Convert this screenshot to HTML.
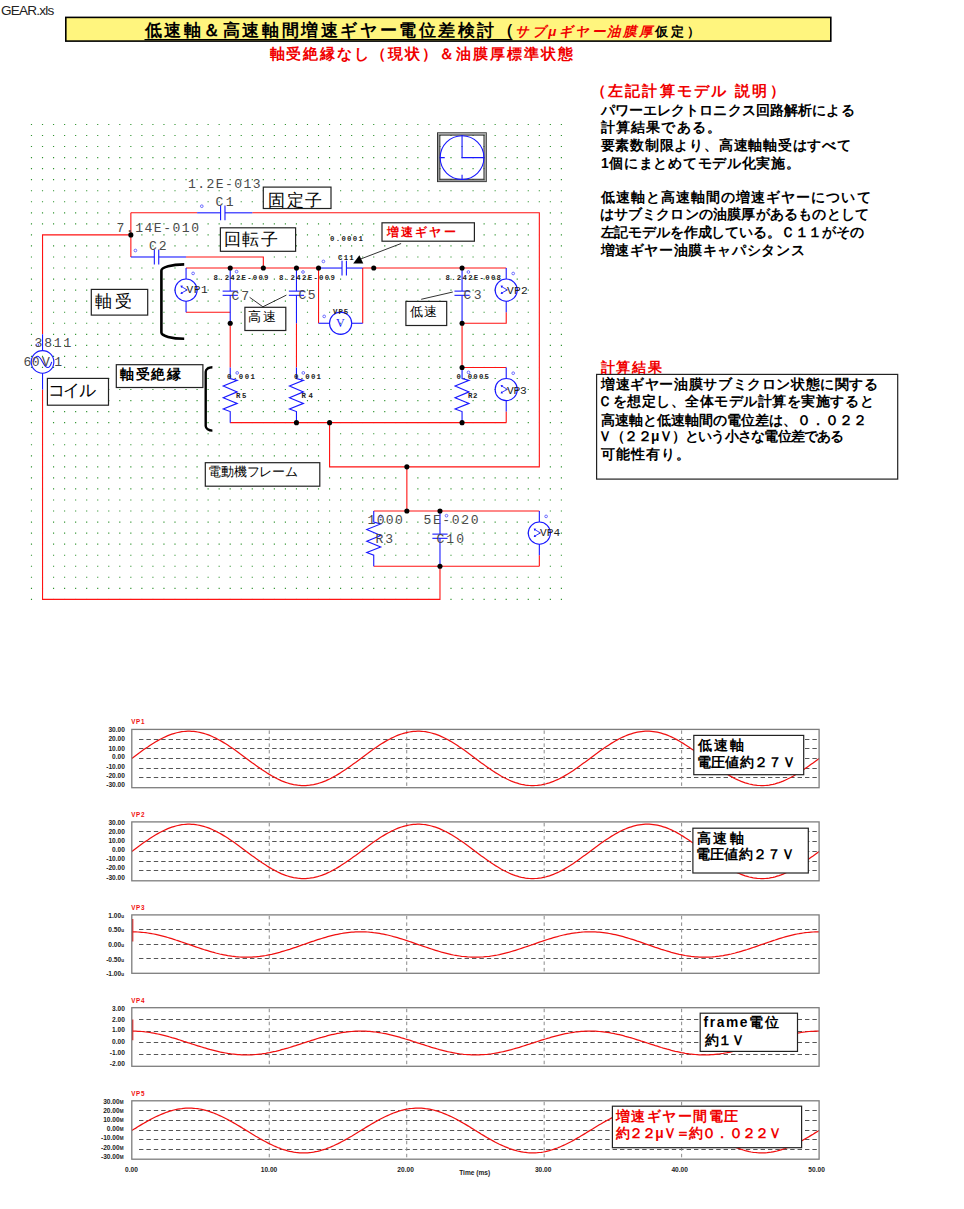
<!DOCTYPE html>
<html lang="ja">
<head>
<meta charset="utf-8">
<title>GEAR.xls</title>
<style>
html,body{margin:0;padding:0;background:#fff}
body{width:964px;height:1209px;overflow:hidden;font-family:"Liberation Sans",sans-serif}
svg{display:block}
text{white-space:pre}
.r{stroke:#ff1212;stroke-width:1.1;fill:none}
.b{stroke:#1818ff;stroke-width:1.1;fill:none}
.k{fill:#000}
.bx{fill:#fff;stroke:#222;stroke-width:1.2}
.mk{fill:none;stroke:#4a4aff;stroke-width:.8}
.fr{fill:none;stroke:#7d7d7d;stroke-width:1.3}
.gh{stroke:#555;stroke-width:1;stroke-dasharray:4.4 3;fill:none}
.gv{stroke:#8a8a8a;stroke-width:1;stroke-dasharray:3.5 3;fill:none}
.cv{stroke:#f01010;stroke-width:1.25;fill:none}
.ax{font-family:"Liberation Sans",sans-serif;font-size:6.6px;font-weight:bold;fill:#222}
.ct{font-family:"Liberation Sans",sans-serif;font-size:6.3px;font-weight:bold;fill:#f01010;letter-spacing:.6px}
</style>
</head>
<body>
<svg width="964" height="1209" viewBox="0 0 964 1209">
<rect width="964" height="1209" fill="#fff"/>
<rect x="65.8" y="17.4" width="765" height="23.7" fill="#fff57e" stroke="#000" stroke-width="1.6"/>
<line x1="144.5" y1="39.6" x2="512.5" y2="39.6" stroke="#000" stroke-width="1.1"/>
<g stroke="#2f932f" stroke-width="1.15" stroke-dasharray="1.15 9.890">
<line x1="30.90" y1="124.45" x2="562.22" y2="124.45"/>
<line x1="30.90" y1="135.50" x2="562.22" y2="135.50"/>
<line x1="30.90" y1="146.54" x2="562.22" y2="146.54"/>
<line x1="30.90" y1="157.59" x2="562.22" y2="157.59"/>
<line x1="30.90" y1="168.63" x2="562.22" y2="168.63"/>
<line x1="30.90" y1="179.68" x2="562.22" y2="179.68"/>
<line x1="30.90" y1="190.72" x2="562.22" y2="190.72"/>
<line x1="30.90" y1="201.76" x2="562.22" y2="201.76"/>
<line x1="30.90" y1="212.81" x2="562.22" y2="212.81"/>
<line x1="30.90" y1="223.86" x2="562.22" y2="223.86"/>
<line x1="30.90" y1="234.90" x2="562.22" y2="234.90"/>
<line x1="30.90" y1="245.94" x2="562.22" y2="245.94"/>
<line x1="30.90" y1="256.99" x2="562.22" y2="256.99"/>
<line x1="30.90" y1="268.04" x2="562.22" y2="268.04"/>
<line x1="30.90" y1="279.08" x2="562.22" y2="279.08"/>
<line x1="30.90" y1="290.12" x2="562.22" y2="290.12"/>
<line x1="30.90" y1="301.17" x2="562.22" y2="301.17"/>
<line x1="30.90" y1="312.21" x2="562.22" y2="312.21"/>
<line x1="30.90" y1="323.26" x2="562.22" y2="323.26"/>
<line x1="30.90" y1="334.31" x2="562.22" y2="334.31"/>
<line x1="30.90" y1="345.35" x2="562.22" y2="345.35"/>
<line x1="30.90" y1="356.39" x2="562.22" y2="356.39"/>
<line x1="30.90" y1="367.44" x2="562.22" y2="367.44"/>
<line x1="30.90" y1="378.49" x2="562.22" y2="378.49"/>
<line x1="30.90" y1="389.53" x2="562.22" y2="389.53"/>
<line x1="30.90" y1="400.57" x2="562.22" y2="400.57"/>
<line x1="30.90" y1="411.62" x2="562.22" y2="411.62"/>
<line x1="30.90" y1="422.66" x2="562.22" y2="422.66"/>
<line x1="30.90" y1="433.71" x2="562.22" y2="433.71"/>
<line x1="30.90" y1="444.75" x2="562.22" y2="444.75"/>
<line x1="30.90" y1="455.80" x2="562.22" y2="455.80"/>
<line x1="30.90" y1="466.84" x2="562.22" y2="466.84"/>
<line x1="30.90" y1="477.89" x2="562.22" y2="477.89"/>
<line x1="30.90" y1="488.94" x2="562.22" y2="488.94"/>
<line x1="30.90" y1="499.98" x2="562.22" y2="499.98"/>
<line x1="30.90" y1="511.02" x2="562.22" y2="511.02"/>
<line x1="30.90" y1="522.07" x2="562.22" y2="522.07"/>
<line x1="30.90" y1="533.12" x2="562.22" y2="533.12"/>
<line x1="30.90" y1="544.16" x2="562.22" y2="544.16"/>
<line x1="30.90" y1="555.21" x2="562.22" y2="555.21"/>
<line x1="30.90" y1="566.25" x2="562.22" y2="566.25"/>
<line x1="30.90" y1="577.29" x2="562.22" y2="577.29"/>
<line x1="30.90" y1="588.34" x2="562.22" y2="588.34"/>
<line x1="30.90" y1="599.38" x2="562.22" y2="599.38"/>
</g>
<path d="M42.54 334.31 L42.54 234.90 L130.86 234.90 M130.86 212.81 L130.86 256.99 M130.86 212.81 L197.10 212.81 M252.30 212.81 L539.34 212.81 L539.34 466.84 L329.58 466.84 L329.58 422.66 M186.06 256.99 L263.34 256.99 L263.34 268.04 M186.06 268.04 L318.54 268.04 M362.70 268.04 L506.22 268.04 M186.06 312.21 L230.22 312.21 M230.22 323.26 L230.22 367.44 M296.46 323.26 L296.46 367.44 M462.06 323.26 L462.06 367.44 M318.54 268.04 L318.54 323.26 M362.70 268.04 L362.70 323.26 M506.22 312.21 L506.22 323.26 L462.06 323.26 M462.06 367.44 L506.22 367.44 M506.22 411.62 L506.22 422.66 M230.22 422.66 L506.22 422.66 M406.86 466.84 L406.86 511.02 M373.74 511.02 L539.34 511.02 M373.74 566.25 L539.34 566.25 M539.34 555.21 L539.34 566.25 M439.98 566.25 L439.98 599.38 L42.54 599.38 L42.54 389.53 M197.10 212.81 L220.58 212.81 M224.98 212.81 L252.30 212.81 M220.58 205.41 L220.58 220.21 M224.98 205.41 L224.98 220.21 M130.86 256.99 L154.34 256.99 M158.74 256.99 L186.06 256.99 M154.34 249.59 L154.34 264.39 M158.74 249.59 L158.74 264.39 M318.54 268.04 L342.02 268.04 M346.42 268.04 L362.70 268.04 M342.02 260.64 L342.02 275.44 M346.42 260.64 L346.42 275.44 M230.22 268.04 L230.22 291.12 M230.22 295.32 L230.22 323.26 M222.62 291.12 L237.82 291.12 M222.62 295.32 L237.82 295.32 M296.46 268.04 L296.46 291.12 M296.46 295.32 L296.46 323.26 M288.86 291.12 L304.06 291.12 M288.86 295.32 L304.06 295.32 M462.06 268.04 L462.06 291.12 M462.06 295.32 L462.06 323.26 M454.46 291.12 L469.66 291.12 M454.46 295.32 L469.66 295.32 M439.98 511.02 L439.98 534.12 M439.98 538.32 L439.98 566.25 M432.38 534.12 L447.58 534.12 M432.38 538.32 L447.58 538.32 M230.22 367.44 L230.22 378.49 L237.22 380.38 L223.22 385.99 L237.22 391.88 L223.22 397.69 L237.22 403.38 L223.22 408.99 L230.22 411.59 L230.22 422.66 M296.46 367.44 L296.46 378.49 L303.46 380.38 L289.46 385.99 L303.46 391.88 L289.46 397.69 L303.46 403.38 L289.46 408.99 L296.46 411.59 L296.46 422.66 M462.06 367.44 L462.06 378.49 L469.06 380.38 L455.06 385.99 L469.06 391.88 L455.06 397.69 L469.06 403.38 L455.06 408.99 L462.06 411.59 L462.06 422.66 M373.74 511.02 L373.74 522.07 L380.74 523.97 L366.74 529.57 L380.74 535.47 L366.74 541.27 L380.74 546.97 L366.74 552.57 L373.74 555.17 L373.74 566.25 M186.06 268.04 L186.06 279.12 M186.06 301.12 L186.06 312.21 M506.22 268.04 L506.22 279.12 M506.22 301.12 L506.22 312.21 M506.22 367.44 L506.22 378.53 M506.22 400.53 L506.22 411.62 M539.34 511.02 L539.34 522.12 M539.34 544.12 L539.34 555.21 M318.54 323.26 L329.62 323.26 M351.62 323.26 L362.70 323.26 M42.54 334.31 L42.54 350.72 M42.54 373.12 L42.54 389.53" fill="none" stroke="#fff" stroke-width="2.4" stroke-linecap="square"/>
<g id="wires">
<path class="r" d="M42.54 334.31 L42.54 234.90 L130.86 234.90"/>
<path class="r" d="M130.86 212.81 L130.86 256.99"/>
<path class="r" d="M130.86 212.81 L197.10 212.81"/>
<path class="r" d="M252.30 212.81 L539.34 212.81 L539.34 466.84 L329.58 466.84 L329.58 422.66"/>
<path class="r" d="M186.06 256.99 L263.34 256.99 L263.34 268.04"/>
<path class="r" d="M186.06 268.04 L318.54 268.04"/>
<path class="r" d="M362.70 268.04 L506.22 268.04"/>
<path class="r" d="M186.06 312.21 L230.22 312.21"/>
<path class="r" d="M230.22 323.26 L230.22 367.44"/>
<path class="r" d="M296.46 323.26 L296.46 367.44"/>
<path class="r" d="M462.06 323.26 L462.06 367.44"/>
<path class="r" d="M318.54 268.04 L318.54 323.26"/>
<path class="r" d="M362.70 268.04 L362.70 323.26"/>
<path class="r" d="M506.22 312.21 L506.22 323.26 L462.06 323.26"/>
<path class="r" d="M462.06 367.44 L506.22 367.44"/>
<path class="r" d="M506.22 411.62 L506.22 422.66"/>
<path class="r" d="M230.22 422.66 L506.22 422.66"/>
<path class="r" d="M406.86 466.84 L406.86 511.02"/>
<path class="r" d="M373.74 511.02 L539.34 511.02"/>
<path class="r" d="M373.74 566.25 L539.34 566.25"/>
<path class="r" d="M539.34 555.21 L539.34 566.25"/>
<path class="r" d="M439.98 566.25 L439.98 599.38 L42.54 599.38 L42.54 389.53"/>
</g>
<g id="parts">
<path class="b" d="M197.10 212.81 L220.58 212.81"/>
<path class="b" d="M224.98 212.81 L252.30 212.81"/>
<path class="b" d="M220.58 205.41 L220.58 220.21"/>
<path class="b" d="M224.98 205.41 L224.98 220.21"/>
<path class="b" d="M130.86 256.99 L154.34 256.99"/>
<path class="b" d="M158.74 256.99 L186.06 256.99"/>
<path class="b" d="M154.34 249.59 L154.34 264.39"/>
<path class="b" d="M158.74 249.59 L158.74 264.39"/>
<path class="b" d="M318.54 268.04 L342.02 268.04"/>
<path class="b" d="M346.42 268.04 L362.70 268.04"/>
<path class="b" d="M342.02 260.64 L342.02 275.44"/>
<path class="b" d="M346.42 260.64 L346.42 275.44"/>
<path class="b" d="M230.22 268.04 L230.22 291.12"/>
<path class="b" d="M230.22 295.32 L230.22 323.26"/>
<path class="b" d="M222.62 291.12 L237.82 291.12"/>
<path class="b" d="M222.62 295.32 L237.82 295.32"/>
<path class="b" d="M296.46 268.04 L296.46 291.12"/>
<path class="b" d="M296.46 295.32 L296.46 323.26"/>
<path class="b" d="M288.86 291.12 L304.06 291.12"/>
<path class="b" d="M288.86 295.32 L304.06 295.32"/>
<path class="b" d="M462.06 268.04 L462.06 291.12"/>
<path class="b" d="M462.06 295.32 L462.06 323.26"/>
<path class="b" d="M454.46 291.12 L469.66 291.12"/>
<path class="b" d="M454.46 295.32 L469.66 295.32"/>
<path class="b" d="M439.98 511.02 L439.98 534.12"/>
<path class="b" d="M439.98 538.32 L439.98 566.25"/>
<path class="b" d="M432.38 534.12 L447.58 534.12"/>
<path class="b" d="M432.38 538.32 L447.58 538.32"/>
<path class="b" d="M230.22 367.44 L230.22 378.49 L237.22 380.38 L223.22 385.99 L237.22 391.88 L223.22 397.69 L237.22 403.38 L223.22 408.99 L230.22 411.59 L230.22 422.66"/>
<path class="b" d="M296.46 367.44 L296.46 378.49 L303.46 380.38 L289.46 385.99 L303.46 391.88 L289.46 397.69 L303.46 403.38 L289.46 408.99 L296.46 411.59 L296.46 422.66"/>
<path class="b" d="M462.06 367.44 L462.06 378.49 L469.06 380.38 L455.06 385.99 L469.06 391.88 L455.06 397.69 L469.06 403.38 L455.06 408.99 L462.06 411.59 L462.06 422.66"/>
<path class="b" d="M373.74 511.02 L373.74 522.07 L380.74 523.97 L366.74 529.57 L380.74 535.47 L366.74 541.27 L380.74 546.97 L366.74 552.57 L373.74 555.17 L373.74 566.25"/>
<path class="b" d="M186.06 268.04 L186.06 279.12"/>
<path class="b" d="M186.06 301.12 L186.06 312.21"/>
<circle class="b" cx="186.06" cy="290.12" r="11.1"/>
<path class="b" style="stroke-width:.85" d="M181.26 286.52 L187.26 289.93 L181.26 293.12"/>
<path fill="#1818ff" d="M180.46 285.52 l2.6 0.3 l-1.9 2.1z M180.46 294.12 l2.6 -0.3 l-1.9 -2.1z"/>
<path class="b" d="M506.22 268.04 L506.22 279.12"/>
<path class="b" d="M506.22 301.12 L506.22 312.21"/>
<circle class="b" cx="506.22" cy="290.12" r="11.1"/>
<path class="b" style="stroke-width:.85" d="M501.42 286.52 L507.42 289.93 L501.42 293.12"/>
<path fill="#1818ff" d="M500.62 285.52 l2.6 0.3 l-1.9 2.1z M500.62 294.12 l2.6 -0.3 l-1.9 -2.1z"/>
<path class="b" d="M506.22 367.44 L506.22 378.53"/>
<path class="b" d="M506.22 400.53 L506.22 411.62"/>
<circle class="b" cx="506.22" cy="389.53" r="11.1"/>
<path class="b" style="stroke-width:.85" d="M501.42 385.93 L507.42 389.33 L501.42 392.53"/>
<path fill="#1818ff" d="M500.62 384.93 l2.6 0.3 l-1.9 2.1z M500.62 393.53 l2.6 -0.3 l-1.9 -2.1z"/>
<path class="b" d="M539.34 511.02 L539.34 522.12"/>
<path class="b" d="M539.34 544.12 L539.34 555.21"/>
<circle class="b" cx="539.34" cy="533.12" r="11.1"/>
<path class="b" style="stroke-width:.85" d="M534.54 529.51 L540.54 532.91 L534.54 536.12"/>
<path fill="#1818ff" d="M533.74 528.51 l2.6 0.3 l-1.9 2.1z M533.74 537.12 l2.6 -0.3 l-1.9 -2.1z"/>
<path class="b" d="M318.54 323.26 L329.62 323.26"/>
<path class="b" d="M351.62 323.26 L362.70 323.26"/>
<circle class="b" cx="340.62" cy="323.26" r="11.1"/>
<path class="b" d="M42.54 334.31 L42.54 350.72"/>
<path class="b" d="M42.54 373.12 L42.54 389.53"/>
<circle class="b" cx="42.54" cy="361.92" r="11.3"/>
<path class="b" stroke-width="1.1" d="M33.34 361.92 c2.2 -7.5 5.2 -7.5 9.2 0 s7 7.5 9.2 0"/>
<rect x="437.5" y="132.8" width="48.8" height="48.8" fill="none" stroke="#333" stroke-width="1"/>
<rect x="438.6" y="133.9" width="46.6" height="46.6" fill="none" stroke="#9a9a9a" stroke-width="1.2"/>
<rect x="439.8" y="135.1" width="44.2" height="44.2" fill="none" stroke="#333" stroke-width="1.1"/>
<circle class="b" cx="462.06" cy="157.59" r="21.9"/>
<path class="b" d="M462.06 135.60 V157.59 H483.80 M440.16 157.59 h4.6 M462.06 179.49 v-4.8"/>
</g>
<g class="k">
<circle cx="130.86" cy="234.90" r="2.55"/>
<circle cx="230.22" cy="268.04" r="2.55"/>
<circle cx="263.34" cy="268.04" r="2.55"/>
<circle cx="296.46" cy="268.04" r="2.55"/>
<circle cx="318.54" cy="268.04" r="2.55"/>
<circle cx="373.74" cy="268.04" r="2.55"/>
<circle cx="462.06" cy="268.04" r="2.55"/>
<circle cx="230.22" cy="323.26" r="2.55"/>
<circle cx="462.06" cy="323.26" r="2.55"/>
<circle cx="462.06" cy="367.44" r="2.55"/>
<circle cx="296.46" cy="422.66" r="2.55"/>
<circle cx="329.58" cy="422.66" r="2.55"/>
<circle cx="462.06" cy="422.66" r="2.55"/>
<circle cx="406.86" cy="466.84" r="2.55"/>
<circle cx="406.86" cy="511.02" r="2.55"/>
<circle cx="439.98" cy="511.02" r="2.55"/>
<circle cx="439.98" cy="566.25" r="2.55"/>
</g>
<g class="mk">
<circle cx="201.8" cy="206.2" r="1.35"/>
<circle cx="135.4" cy="250.5" r="1.35"/>
<circle cx="236.6" cy="271.6" r="1.35"/>
<circle cx="303.0" cy="272.0" r="1.35"/>
<circle cx="468.4" cy="272.0" r="1.35"/>
<circle cx="323.4" cy="261.4" r="1.35"/>
<circle cx="324.2" cy="316.4" r="1.35"/>
<circle cx="193.1" cy="273.4" r="1.35"/>
<circle cx="513.2" cy="273.5" r="1.35"/>
<circle cx="513.2" cy="373.2" r="1.35"/>
<circle cx="546.1" cy="516.4" r="1.35"/>
<circle cx="237.2" cy="372.9" r="1.35"/>
<circle cx="303.3" cy="372.9" r="1.35"/>
<circle cx="468.5" cy="372.4" r="1.35"/>
<circle cx="380.7" cy="516.3" r="1.35"/>
<circle cx="446.5" cy="515.7" r="1.35"/>
<circle cx="37.4" cy="345.0" r="1.35"/>
</g>
<path d="M184.2 264.4 A22.8 6.2 0 0 0 161.4 270.6 V332.6 A22.8 6.2 0 0 0 184.2 338.8" fill="none" stroke="#000" stroke-width="2.6"/>
<path d="M212.4 367.2 A6.7 4.6 0 0 0 205.7 371.8 V426 A6.7 4.6 0 0 0 212.4 430.6" fill="none" stroke="#000" stroke-width="2.4"/>
<path d="M249.6 297.3 L262.9 306.8 L286.4 295.1 M421.2 299.3 L452.8 292 M401.1 243.5 L360.7 259" fill="none" stroke="#333" stroke-width="1"/>
<path d="M359.4 255.2 L353.2 263.6 L363.3 263.6z" fill="#000"/>
<rect class="bx" x="263.3" y="187.1" width="67.7" height="21.4"/>
<rect class="bx" x="220.4" y="227.8" width="75.2" height="23.5"/>
<rect class="bx" x="91.3" y="289.4" width="56.4" height="25.7"/>
<rect class="bx" x="116.3" y="364.7" width="86.6" height="22.8"/>
<rect class="bx" x="47.4" y="378.4" width="61.1" height="26.8"/>
<rect class="bx" x="244.9" y="307.3" width="40.9" height="23.2"/>
<rect class="bx" x="405.9" y="301.4" width="40.8" height="24.1"/>
<rect class="bx" x="205.3" y="462.7" width="114.5" height="23.5"/>
<rect class="bx" x="382.0" y="222.8" width="92.4" height="18.4"/>
<rect class="bx" x="596.6" y="374.4" width="301.1" height="104.7"/>
<g>
<line class="gh" x1="139.0" y1="739.50" x2="819.1" y2="739.50"/>
<line class="gh" x1="139.0" y1="748.50" x2="819.1" y2="748.50"/>
<line class="gh" x1="139.0" y1="758.50" x2="819.1" y2="758.50"/>
<line class="gh" x1="139.0" y1="768.50" x2="819.1" y2="768.50"/>
<line class="gh" x1="139.0" y1="777.50" x2="819.1" y2="777.50"/>
<line class="gv" x1="269.26" y1="730.4" x2="269.26" y2="787.7"/>
<line class="gv" x1="406.72" y1="730.4" x2="406.72" y2="787.7"/>
<line class="gv" x1="544.18" y1="730.4" x2="544.18" y2="787.7"/>
<line class="gv" x1="681.64" y1="730.4" x2="681.64" y2="787.7"/>
<path class="cv" d="M131.8 758.4 L133.8 756.9 L135.8 755.4 L137.8 753.9 L139.8 752.5 L141.8 751.0 L143.8 749.6 L145.8 748.2 L147.8 746.9 L149.8 745.5 L151.8 744.2 L153.8 743.0 L155.8 741.8 L157.8 740.6 L159.8 739.5 L161.8 738.5 L163.8 737.5 L165.8 736.6 L167.8 735.7 L169.8 734.9 L171.8 734.2 L173.8 733.6 L175.8 733.0 L177.8 732.5 L179.8 732.1 L181.7 731.7 L183.7 731.5 L185.7 731.3 L187.7 731.2 L189.7 731.2 L191.7 731.3 L193.7 731.4 L195.7 731.7 L197.7 732.0 L199.7 732.4 L201.7 732.8 L203.7 733.4 L205.7 734.0 L207.7 734.7 L209.7 735.4 L211.7 736.3 L213.7 737.2 L215.7 738.1 L217.7 739.2 L219.7 740.2 L221.7 741.4 L223.7 742.6 L225.7 743.8 L227.7 745.1 L229.7 746.4 L231.7 747.8 L233.7 749.1 L235.7 750.6 L237.7 752.0 L239.7 753.5 L241.7 754.9 L243.7 756.4 L245.7 757.9 L247.7 759.4 L249.7 760.9 L251.7 762.4 L253.7 763.8 L255.7 765.3 L257.7 766.7 L259.7 768.1 L261.7 769.5 L263.7 770.8 L265.7 772.1 L267.7 773.4 L269.7 774.6 L271.7 775.8 L273.7 776.9 L275.7 778.0 L277.7 779.0 L279.6 779.9 L281.6 780.8 L283.6 781.6 L285.6 782.4 L287.6 783.0 L289.6 783.6 L291.6 784.1 L293.6 784.6 L295.6 784.9 L297.6 785.2 L299.6 785.4 L301.6 785.6 L303.6 785.6 L305.6 785.6 L307.6 785.4 L309.6 785.2 L311.6 784.9 L313.6 784.6 L315.6 784.1 L317.6 783.6 L319.6 783.0 L321.6 782.4 L323.6 781.6 L325.6 780.8 L327.6 779.9 L329.6 779.0 L331.6 778.0 L333.6 776.9 L335.6 775.8 L337.6 774.6 L339.6 773.4 L341.6 772.1 L343.6 770.8 L345.6 769.5 L347.6 768.1 L349.6 766.7 L351.6 765.3 L353.6 763.8 L355.6 762.4 L357.6 760.9 L359.6 759.4 L361.6 757.9 L363.6 756.4 L365.6 754.9 L367.6 753.5 L369.6 752.0 L371.6 750.6 L373.6 749.1 L375.6 747.8 L377.5 746.4 L379.5 745.1 L381.5 743.8 L383.5 742.6 L385.5 741.4 L387.5 740.2 L389.5 739.2 L391.5 738.1 L393.5 737.2 L395.5 736.3 L397.5 735.4 L399.5 734.7 L401.5 734.0 L403.5 733.4 L405.5 732.8 L407.5 732.4 L409.5 732.0 L411.5 731.7 L413.5 731.4 L415.5 731.3 L417.5 731.2 L419.5 731.2 L421.5 731.3 L423.5 731.5 L425.5 731.7 L427.5 732.1 L429.5 732.5 L431.5 733.0 L433.5 733.6 L435.5 734.2 L437.5 734.9 L439.5 735.7 L441.5 736.6 L443.5 737.5 L445.5 738.5 L447.5 739.5 L449.5 740.6 L451.5 741.8 L453.5 743.0 L455.5 744.2 L457.5 745.5 L459.5 746.9 L461.5 748.2 L463.5 749.6 L465.5 751.0 L467.5 752.5 L469.5 753.9 L471.5 755.4 L473.5 756.9 L475.4 758.4 L477.4 759.9 L479.4 761.4 L481.4 762.9 L483.4 764.3 L485.4 765.8 L487.4 767.2 L489.4 768.6 L491.4 769.9 L493.4 771.3 L495.4 772.6 L497.4 773.8 L499.4 775.0 L501.4 776.2 L503.4 777.3 L505.4 778.3 L507.4 779.3 L509.4 780.2 L511.4 781.1 L513.4 781.9 L515.4 782.6 L517.4 783.2 L519.4 783.8 L521.4 784.3 L523.4 784.7 L525.4 785.1 L527.4 785.3 L529.4 785.5 L531.4 785.6 L533.4 785.6 L535.4 785.5 L537.4 785.4 L539.4 785.1 L541.4 784.8 L543.4 784.4 L545.4 784.0 L547.4 783.4 L549.4 782.8 L551.4 782.1 L553.4 781.4 L555.4 780.5 L557.4 779.6 L559.4 778.7 L561.4 777.6 L563.4 776.6 L565.4 775.4 L567.4 774.2 L569.4 773.0 L571.4 771.7 L573.4 770.4 L575.3 769.0 L577.3 767.7 L579.3 766.2 L581.3 764.8 L583.3 763.3 L585.3 761.9 L587.3 760.4 L589.3 758.9 L591.3 757.4 L593.3 755.9 L595.3 754.4 L597.3 753.0 L599.3 751.5 L601.3 750.1 L603.3 748.7 L605.3 747.3 L607.3 746.0 L609.3 744.7 L611.3 743.4 L613.3 742.2 L615.3 741.0 L617.3 739.9 L619.3 738.8 L621.3 737.8 L623.3 736.9 L625.3 736.0 L627.3 735.2 L629.3 734.4 L631.3 733.8 L633.3 733.2 L635.3 732.7 L637.3 732.2 L639.3 731.9 L641.3 731.6 L643.3 731.4 L645.3 731.2 L647.3 731.2 L649.3 731.2 L651.3 731.4 L653.3 731.6 L655.3 731.9 L657.3 732.2 L659.3 732.7 L661.3 733.2 L663.3 733.8 L665.3 734.4 L667.3 735.2 L669.3 736.0 L671.3 736.9 L673.2 737.8 L675.2 738.8 L677.2 739.9 L679.2 741.0 L681.2 742.2 L683.2 743.4 L685.2 744.7 L687.2 746.0 L689.2 747.3 L691.2 748.7 L693.2 750.1 L695.2 751.5 L697.2 753.0 L699.2 754.4 L701.2 755.9 L703.2 757.4 L705.2 758.9 L707.2 760.4 L709.2 761.9 L711.2 763.3 L713.2 764.8 L715.2 766.2 L717.2 767.7 L719.2 769.0 L721.2 770.4 L723.2 771.7 L725.2 773.0 L727.2 774.2 L729.2 775.4 L731.2 776.6 L733.2 777.6 L735.2 778.7 L737.2 779.6 L739.2 780.5 L741.2 781.4 L743.2 782.1 L745.2 782.8 L747.2 783.4 L749.2 784.0 L751.2 784.4 L753.2 784.8 L755.2 785.1 L757.2 785.4 L759.2 785.5 L761.2 785.6 L763.2 785.6 L765.2 785.5 L767.2 785.3 L769.2 785.1 L771.1 784.7 L773.1 784.3 L775.1 783.8 L777.1 783.2 L779.1 782.6 L781.1 781.9 L783.1 781.1 L785.1 780.2 L787.1 779.3 L789.1 778.3 L791.1 777.3 L793.1 776.2 L795.1 775.0 L797.1 773.8 L799.1 772.6 L801.1 771.3 L803.1 769.9 L805.1 768.6 L807.1 767.2 L809.1 765.8 L811.1 764.3 L813.1 762.9 L815.1 761.4 L817.1 759.9 L819.1 758.4"/>
<rect class="fr" x="131.8" y="729.4" width="687.3" height="58.3"/>
<text class="ct" x="131.3" y="724.0">VP1</text>
<text class="ax" text-anchor="end" x="124.9" y="732.0">30.00</text>
<text class="ax" text-anchor="end" x="124.9" y="741.4">20.00</text>
<text class="ax" text-anchor="end" x="124.9" y="750.6">10.00</text>
<text class="ax" text-anchor="end" x="124.9" y="759.4">0.00</text>
<text class="ax" text-anchor="end" x="124.9" y="768.5">-10.00</text>
<text class="ax" text-anchor="end" x="124.9" y="778.0">-20.00</text>
<text class="ax" text-anchor="end" x="124.9" y="787.1">-30.00</text>
</g>
<g>
<line class="gh" x1="139.0" y1="831.50" x2="819.1" y2="831.50"/>
<line class="gh" x1="139.0" y1="841.50" x2="819.1" y2="841.50"/>
<line class="gh" x1="139.0" y1="851.50" x2="819.1" y2="851.50"/>
<line class="gh" x1="139.0" y1="861.50" x2="819.1" y2="861.50"/>
<line class="gh" x1="139.0" y1="870.50" x2="819.1" y2="870.50"/>
<line class="gv" x1="269.26" y1="822.9" x2="269.26" y2="880.8"/>
<line class="gv" x1="406.72" y1="822.9" x2="406.72" y2="880.8"/>
<line class="gv" x1="544.18" y1="822.9" x2="544.18" y2="880.8"/>
<line class="gv" x1="681.64" y1="822.9" x2="681.64" y2="880.8"/>
<path class="cv" d="M131.8 851.4 L133.8 849.9 L135.8 848.4 L137.8 846.9 L139.8 845.5 L141.8 844.0 L143.8 842.6 L145.8 841.2 L147.8 839.9 L149.8 838.5 L151.8 837.2 L153.8 836.0 L155.8 834.8 L157.8 833.6 L159.8 832.5 L161.8 831.5 L163.8 830.5 L165.8 829.6 L167.8 828.7 L169.8 827.9 L171.8 827.2 L173.8 826.6 L175.8 826.0 L177.8 825.5 L179.8 825.1 L181.7 824.7 L183.7 824.5 L185.7 824.3 L187.7 824.2 L189.7 824.2 L191.7 824.3 L193.7 824.4 L195.7 824.7 L197.7 825.0 L199.7 825.4 L201.7 825.8 L203.7 826.4 L205.7 827.0 L207.7 827.7 L209.7 828.4 L211.7 829.3 L213.7 830.2 L215.7 831.1 L217.7 832.2 L219.7 833.2 L221.7 834.4 L223.7 835.6 L225.7 836.8 L227.7 838.1 L229.7 839.4 L231.7 840.8 L233.7 842.1 L235.7 843.6 L237.7 845.0 L239.7 846.5 L241.7 847.9 L243.7 849.4 L245.7 850.9 L247.7 852.4 L249.7 853.9 L251.7 855.4 L253.7 856.8 L255.7 858.3 L257.7 859.7 L259.7 861.1 L261.7 862.5 L263.7 863.8 L265.7 865.1 L267.7 866.4 L269.7 867.6 L271.7 868.8 L273.7 869.9 L275.7 871.0 L277.7 872.0 L279.6 872.9 L281.6 873.8 L283.6 874.6 L285.6 875.4 L287.6 876.0 L289.6 876.6 L291.6 877.1 L293.6 877.6 L295.6 877.9 L297.6 878.2 L299.6 878.4 L301.6 878.6 L303.6 878.6 L305.6 878.6 L307.6 878.4 L309.6 878.2 L311.6 877.9 L313.6 877.6 L315.6 877.1 L317.6 876.6 L319.6 876.0 L321.6 875.4 L323.6 874.6 L325.6 873.8 L327.6 872.9 L329.6 872.0 L331.6 871.0 L333.6 869.9 L335.6 868.8 L337.6 867.6 L339.6 866.4 L341.6 865.1 L343.6 863.8 L345.6 862.5 L347.6 861.1 L349.6 859.7 L351.6 858.3 L353.6 856.8 L355.6 855.4 L357.6 853.9 L359.6 852.4 L361.6 850.9 L363.6 849.4 L365.6 847.9 L367.6 846.5 L369.6 845.0 L371.6 843.6 L373.6 842.1 L375.6 840.8 L377.5 839.4 L379.5 838.1 L381.5 836.8 L383.5 835.6 L385.5 834.4 L387.5 833.2 L389.5 832.2 L391.5 831.1 L393.5 830.2 L395.5 829.3 L397.5 828.4 L399.5 827.7 L401.5 827.0 L403.5 826.4 L405.5 825.8 L407.5 825.4 L409.5 825.0 L411.5 824.7 L413.5 824.4 L415.5 824.3 L417.5 824.2 L419.5 824.2 L421.5 824.3 L423.5 824.5 L425.5 824.7 L427.5 825.1 L429.5 825.5 L431.5 826.0 L433.5 826.6 L435.5 827.2 L437.5 827.9 L439.5 828.7 L441.5 829.6 L443.5 830.5 L445.5 831.5 L447.5 832.5 L449.5 833.6 L451.5 834.8 L453.5 836.0 L455.5 837.2 L457.5 838.5 L459.5 839.9 L461.5 841.2 L463.5 842.6 L465.5 844.0 L467.5 845.5 L469.5 846.9 L471.5 848.4 L473.5 849.9 L475.4 851.4 L477.4 852.9 L479.4 854.4 L481.4 855.9 L483.4 857.3 L485.4 858.8 L487.4 860.2 L489.4 861.6 L491.4 862.9 L493.4 864.3 L495.4 865.6 L497.4 866.8 L499.4 868.0 L501.4 869.2 L503.4 870.3 L505.4 871.3 L507.4 872.3 L509.4 873.2 L511.4 874.1 L513.4 874.9 L515.4 875.6 L517.4 876.2 L519.4 876.8 L521.4 877.3 L523.4 877.7 L525.4 878.1 L527.4 878.3 L529.4 878.5 L531.4 878.6 L533.4 878.6 L535.4 878.5 L537.4 878.4 L539.4 878.1 L541.4 877.8 L543.4 877.4 L545.4 877.0 L547.4 876.4 L549.4 875.8 L551.4 875.1 L553.4 874.4 L555.4 873.5 L557.4 872.6 L559.4 871.7 L561.4 870.6 L563.4 869.6 L565.4 868.4 L567.4 867.2 L569.4 866.0 L571.4 864.7 L573.4 863.4 L575.3 862.0 L577.3 860.7 L579.3 859.2 L581.3 857.8 L583.3 856.3 L585.3 854.9 L587.3 853.4 L589.3 851.9 L591.3 850.4 L593.3 848.9 L595.3 847.4 L597.3 846.0 L599.3 844.5 L601.3 843.1 L603.3 841.7 L605.3 840.3 L607.3 839.0 L609.3 837.7 L611.3 836.4 L613.3 835.2 L615.3 834.0 L617.3 832.9 L619.3 831.8 L621.3 830.8 L623.3 829.9 L625.3 829.0 L627.3 828.2 L629.3 827.4 L631.3 826.8 L633.3 826.2 L635.3 825.7 L637.3 825.2 L639.3 824.9 L641.3 824.6 L643.3 824.4 L645.3 824.2 L647.3 824.2 L649.3 824.2 L651.3 824.4 L653.3 824.6 L655.3 824.9 L657.3 825.2 L659.3 825.7 L661.3 826.2 L663.3 826.8 L665.3 827.4 L667.3 828.2 L669.3 829.0 L671.3 829.9 L673.2 830.8 L675.2 831.8 L677.2 832.9 L679.2 834.0 L681.2 835.2 L683.2 836.4 L685.2 837.7 L687.2 839.0 L689.2 840.3 L691.2 841.7 L693.2 843.1 L695.2 844.5 L697.2 846.0 L699.2 847.4 L701.2 848.9 L703.2 850.4 L705.2 851.9 L707.2 853.4 L709.2 854.9 L711.2 856.3 L713.2 857.8 L715.2 859.2 L717.2 860.7 L719.2 862.0 L721.2 863.4 L723.2 864.7 L725.2 866.0 L727.2 867.2 L729.2 868.4 L731.2 869.6 L733.2 870.6 L735.2 871.7 L737.2 872.6 L739.2 873.5 L741.2 874.4 L743.2 875.1 L745.2 875.8 L747.2 876.4 L749.2 877.0 L751.2 877.4 L753.2 877.8 L755.2 878.1 L757.2 878.4 L759.2 878.5 L761.2 878.6 L763.2 878.6 L765.2 878.5 L767.2 878.3 L769.2 878.1 L771.1 877.7 L773.1 877.3 L775.1 876.8 L777.1 876.2 L779.1 875.6 L781.1 874.9 L783.1 874.1 L785.1 873.2 L787.1 872.3 L789.1 871.3 L791.1 870.3 L793.1 869.2 L795.1 868.0 L797.1 866.8 L799.1 865.6 L801.1 864.3 L803.1 862.9 L805.1 861.6 L807.1 860.2 L809.1 858.8 L811.1 857.3 L813.1 855.9 L815.1 854.4 L817.1 852.9 L819.1 851.4"/>
<rect class="fr" x="131.8" y="821.9" width="687.3" height="58.9"/>
<text class="ct" x="131.3" y="817.0">VP2</text>
<text class="ax" text-anchor="end" x="124.9" y="824.5">30.00</text>
<text class="ax" text-anchor="end" x="124.9" y="833.9">20.00</text>
<text class="ax" text-anchor="end" x="124.9" y="843.1">10.00</text>
<text class="ax" text-anchor="end" x="124.9" y="851.9">0.00</text>
<text class="ax" text-anchor="end" x="124.9" y="861.0">-10.00</text>
<text class="ax" text-anchor="end" x="124.9" y="870.4">-20.00</text>
<text class="ax" text-anchor="end" x="124.9" y="879.6">-30.00</text>
</g>
<g>
<line class="gh" x1="139.0" y1="929.50" x2="819.1" y2="929.50"/>
<line class="gh" x1="139.0" y1="944.50" x2="819.1" y2="944.50"/>
<line class="gh" x1="139.0" y1="958.50" x2="819.1" y2="958.50"/>
<line class="gv" x1="269.26" y1="915.9" x2="269.26" y2="973.3"/>
<line class="gv" x1="406.72" y1="915.9" x2="406.72" y2="973.3"/>
<line class="gv" x1="544.18" y1="915.9" x2="544.18" y2="973.3"/>
<line class="gv" x1="681.64" y1="915.9" x2="681.64" y2="973.3"/>
<path class="cv" d="M132.7 919.0 V941.5 M131.8 931.8 L133.8 931.8 L135.8 931.9 L137.8 932.0 L139.8 932.1 L141.8 932.3 L143.8 932.5 L145.8 932.7 L147.8 933.0 L149.8 933.3 L151.8 933.7 L153.8 934.0 L155.8 934.4 L157.8 934.9 L159.8 935.4 L161.8 935.9 L163.8 936.4 L165.8 936.9 L167.8 937.5 L169.8 938.1 L171.8 938.7 L173.8 939.3 L175.8 940.0 L177.8 940.6 L179.8 941.3 L181.7 942.0 L183.7 942.7 L185.7 943.3 L187.7 944.0 L189.7 944.7 L191.7 945.4 L193.7 946.1 L195.7 946.8 L197.7 947.5 L199.7 948.2 L201.7 948.8 L203.7 949.5 L205.7 950.1 L207.7 950.7 L209.7 951.3 L211.7 951.9 L213.7 952.4 L215.7 953.0 L217.7 953.5 L219.7 954.0 L221.7 954.4 L223.7 954.8 L225.7 955.2 L227.7 955.6 L229.7 955.9 L231.7 956.2 L233.7 956.4 L235.7 956.7 L237.7 956.8 L239.7 957.0 L241.7 957.1 L243.7 957.2 L245.7 957.2 L247.7 957.2 L249.7 957.1 L251.7 957.1 L253.7 956.9 L255.7 956.8 L257.7 956.6 L259.7 956.4 L261.7 956.1 L263.7 955.8 L265.7 955.5 L267.7 955.1 L269.7 954.7 L271.7 954.3 L273.7 953.8 L275.7 953.3 L277.7 952.8 L279.6 952.3 L281.6 951.7 L283.6 951.1 L285.6 950.5 L287.6 949.9 L289.6 949.3 L291.6 948.6 L293.6 947.9 L295.6 947.3 L297.6 946.6 L299.6 945.9 L301.6 945.2 L303.6 944.5 L305.6 943.8 L307.6 943.1 L309.6 942.4 L311.6 941.7 L313.6 941.1 L315.6 940.4 L317.6 939.7 L319.6 939.1 L321.6 938.5 L323.6 937.9 L325.6 937.3 L327.6 936.7 L329.6 936.2 L331.6 935.7 L333.6 935.2 L335.6 934.7 L337.6 934.3 L339.6 933.9 L341.6 933.5 L343.6 933.2 L345.6 932.9 L347.6 932.6 L349.6 932.4 L351.6 932.2 L353.6 932.1 L355.6 931.9 L357.6 931.9 L359.6 931.8 L361.6 931.8 L363.6 931.8 L365.6 931.9 L367.6 932.0 L369.6 932.2 L371.6 932.3 L373.6 932.6 L375.6 932.8 L377.5 933.1 L379.5 933.4 L381.5 933.8 L383.5 934.2 L385.5 934.6 L387.5 935.0 L389.5 935.5 L391.5 936.0 L393.5 936.6 L395.5 937.1 L397.5 937.7 L399.5 938.3 L401.5 938.9 L403.5 939.5 L405.5 940.2 L407.5 940.8 L409.5 941.5 L411.5 942.2 L413.5 942.9 L415.5 943.6 L417.5 944.3 L419.5 945.0 L421.5 945.7 L423.5 946.3 L425.5 947.0 L427.5 947.7 L429.5 948.4 L431.5 949.0 L433.5 949.7 L435.5 950.3 L437.5 950.9 L439.5 951.5 L441.5 952.1 L443.5 952.6 L445.5 953.1 L447.5 953.6 L449.5 954.1 L451.5 954.6 L453.5 955.0 L455.5 955.3 L457.5 955.7 L459.5 956.0 L461.5 956.3 L463.5 956.5 L465.5 956.7 L467.5 956.9 L469.5 957.0 L471.5 957.1 L473.5 957.2 L475.4 957.2 L477.4 957.2 L479.4 957.1 L481.4 957.0 L483.4 956.9 L485.4 956.7 L487.4 956.5 L489.4 956.3 L491.4 956.0 L493.4 955.7 L495.4 955.3 L497.4 955.0 L499.4 954.6 L501.4 954.1 L503.4 953.6 L505.4 953.1 L507.4 952.6 L509.4 952.1 L511.4 951.5 L513.4 950.9 L515.4 950.3 L517.4 949.7 L519.4 949.0 L521.4 948.4 L523.4 947.7 L525.4 947.0 L527.4 946.3 L529.4 945.7 L531.4 945.0 L533.4 944.3 L535.4 943.6 L537.4 942.9 L539.4 942.2 L541.4 941.5 L543.4 940.8 L545.4 940.2 L547.4 939.5 L549.4 938.9 L551.4 938.3 L553.4 937.7 L555.4 937.1 L557.4 936.6 L559.4 936.0 L561.4 935.5 L563.4 935.0 L565.4 934.6 L567.4 934.2 L569.4 933.8 L571.4 933.4 L573.4 933.1 L575.3 932.8 L577.3 932.6 L579.3 932.3 L581.3 932.2 L583.3 932.0 L585.3 931.9 L587.3 931.8 L589.3 931.8 L591.3 931.8 L593.3 931.9 L595.3 931.9 L597.3 932.1 L599.3 932.2 L601.3 932.4 L603.3 932.6 L605.3 932.9 L607.3 933.2 L609.3 933.5 L611.3 933.9 L613.3 934.3 L615.3 934.7 L617.3 935.2 L619.3 935.7 L621.3 936.2 L623.3 936.7 L625.3 937.3 L627.3 937.9 L629.3 938.5 L631.3 939.1 L633.3 939.7 L635.3 940.4 L637.3 941.1 L639.3 941.7 L641.3 942.4 L643.3 943.1 L645.3 943.8 L647.3 944.5 L649.3 945.2 L651.3 945.9 L653.3 946.6 L655.3 947.3 L657.3 947.9 L659.3 948.6 L661.3 949.3 L663.3 949.9 L665.3 950.5 L667.3 951.1 L669.3 951.7 L671.3 952.3 L673.2 952.8 L675.2 953.3 L677.2 953.8 L679.2 954.3 L681.2 954.7 L683.2 955.1 L685.2 955.5 L687.2 955.8 L689.2 956.1 L691.2 956.4 L693.2 956.6 L695.2 956.8 L697.2 956.9 L699.2 957.1 L701.2 957.1 L703.2 957.2 L705.2 957.2 L707.2 957.2 L709.2 957.1 L711.2 957.0 L713.2 956.8 L715.2 956.7 L717.2 956.4 L719.2 956.2 L721.2 955.9 L723.2 955.6 L725.2 955.2 L727.2 954.8 L729.2 954.4 L731.2 954.0 L733.2 953.5 L735.2 953.0 L737.2 952.4 L739.2 951.9 L741.2 951.3 L743.2 950.7 L745.2 950.1 L747.2 949.5 L749.2 948.8 L751.2 948.2 L753.2 947.5 L755.2 946.8 L757.2 946.1 L759.2 945.4 L761.2 944.7 L763.2 944.0 L765.2 943.3 L767.2 942.7 L769.2 942.0 L771.1 941.3 L773.1 940.6 L775.1 940.0 L777.1 939.3 L779.1 938.7 L781.1 938.1 L783.1 937.5 L785.1 936.9 L787.1 936.4 L789.1 935.9 L791.1 935.4 L793.1 934.9 L795.1 934.4 L797.1 934.0 L799.1 933.7 L801.1 933.3 L803.1 933.0 L805.1 932.7 L807.1 932.5 L809.1 932.3 L811.1 932.1 L813.1 932.0 L815.1 931.9 L817.1 931.8 L819.1 931.8"/>
<rect class="fr" x="131.8" y="914.9" width="687.3" height="58.4"/>
<text class="ct" x="131.3" y="909.8">VP3</text>
<text class="ax" text-anchor="end" x="124.0" y="917.8">1.00<tspan font-size="4.6">u</tspan></text>
<text class="ax" text-anchor="end" x="124.0" y="932.4">0.50<tspan font-size="4.6">u</tspan></text>
<text class="ax" text-anchor="end" x="124.0" y="946.9">0.00<tspan font-size="4.6">u</tspan></text>
<text class="ax" text-anchor="end" x="124.0" y="961.8">-0.50<tspan font-size="4.6">u</tspan></text>
<text class="ax" text-anchor="end" x="124.0" y="976.2">-1.00<tspan font-size="4.6">u</tspan></text>
</g>
<g>
<line class="gh" x1="139.0" y1="1019.50" x2="819.1" y2="1019.50"/>
<line class="gh" x1="139.0" y1="1031.50" x2="819.1" y2="1031.50"/>
<line class="gh" x1="139.0" y1="1042.50" x2="819.1" y2="1042.50"/>
<line class="gh" x1="139.0" y1="1054.50" x2="819.1" y2="1054.50"/>
<line class="gv" x1="269.26" y1="1008.7" x2="269.26" y2="1066.3"/>
<line class="gv" x1="406.72" y1="1008.7" x2="406.72" y2="1066.3"/>
<line class="gv" x1="544.18" y1="1008.7" x2="544.18" y2="1066.3"/>
<line class="gv" x1="681.64" y1="1008.7" x2="681.64" y2="1066.3"/>
<path class="cv" d="M132.7 1019.5 V1040.3 M131.8 1031.1 L133.8 1031.1 L135.8 1031.2 L137.8 1031.3 L139.8 1031.4 L141.8 1031.5 L143.8 1031.7 L145.8 1032.0 L147.8 1032.2 L149.8 1032.5 L151.8 1032.8 L153.8 1033.2 L155.8 1033.6 L157.8 1034.0 L159.8 1034.4 L161.8 1034.9 L163.8 1035.4 L165.8 1035.9 L167.8 1036.4 L169.8 1037.0 L171.8 1037.6 L173.8 1038.1 L175.8 1038.7 L177.8 1039.4 L179.8 1040.0 L181.7 1040.6 L183.7 1041.3 L185.7 1041.9 L187.7 1042.6 L189.7 1043.2 L191.7 1043.9 L193.7 1044.5 L195.7 1045.2 L197.7 1045.8 L199.7 1046.4 L201.7 1047.0 L203.7 1047.7 L205.7 1048.2 L207.7 1048.8 L209.7 1049.4 L211.7 1049.9 L213.7 1050.4 L215.7 1050.9 L217.7 1051.4 L219.7 1051.9 L221.7 1052.3 L223.7 1052.7 L225.7 1053.0 L227.7 1053.4 L229.7 1053.7 L231.7 1054.0 L233.7 1054.2 L235.7 1054.4 L237.7 1054.6 L239.7 1054.7 L241.7 1054.8 L243.7 1054.9 L245.7 1054.9 L247.7 1054.9 L249.7 1054.9 L251.7 1054.8 L253.7 1054.7 L255.7 1054.5 L257.7 1054.3 L259.7 1054.1 L261.7 1053.9 L263.7 1053.6 L265.7 1053.3 L267.7 1052.9 L269.7 1052.6 L271.7 1052.1 L273.7 1051.7 L275.7 1051.3 L277.7 1050.8 L279.6 1050.3 L281.6 1049.7 L283.6 1049.2 L285.6 1048.6 L287.6 1048.1 L289.6 1047.5 L291.6 1046.8 L293.6 1046.2 L295.6 1045.6 L297.6 1044.9 L299.6 1044.3 L301.6 1043.7 L303.6 1043.0 L305.6 1042.3 L307.6 1041.7 L309.6 1041.1 L311.6 1040.4 L313.6 1039.8 L315.6 1039.2 L317.6 1038.5 L319.6 1037.9 L321.6 1037.4 L323.6 1036.8 L325.6 1036.3 L327.6 1035.7 L329.6 1035.2 L331.6 1034.7 L333.6 1034.3 L335.6 1033.9 L337.6 1033.4 L339.6 1033.1 L341.6 1032.7 L343.6 1032.4 L345.6 1032.1 L347.6 1031.9 L349.6 1031.7 L351.6 1031.5 L353.6 1031.3 L355.6 1031.2 L357.6 1031.1 L359.6 1031.1 L361.6 1031.1 L363.6 1031.1 L365.6 1031.2 L367.6 1031.3 L369.6 1031.4 L371.6 1031.6 L373.6 1031.8 L375.6 1032.0 L377.5 1032.3 L379.5 1032.6 L381.5 1033.0 L383.5 1033.3 L385.5 1033.7 L387.5 1034.1 L389.5 1034.6 L391.5 1035.1 L393.5 1035.6 L395.5 1036.1 L397.5 1036.6 L399.5 1037.2 L401.5 1037.8 L403.5 1038.3 L405.5 1039.0 L407.5 1039.6 L409.5 1040.2 L411.5 1040.8 L413.5 1041.5 L415.5 1042.1 L417.5 1042.8 L419.5 1043.4 L421.5 1044.1 L423.5 1044.7 L425.5 1045.4 L427.5 1046.0 L429.5 1046.6 L431.5 1047.3 L433.5 1047.9 L435.5 1048.4 L437.5 1049.0 L439.5 1049.6 L441.5 1050.1 L443.5 1050.6 L445.5 1051.1 L447.5 1051.6 L449.5 1052.0 L451.5 1052.4 L453.5 1052.8 L455.5 1053.2 L457.5 1053.5 L459.5 1053.8 L461.5 1054.0 L463.5 1054.3 L465.5 1054.5 L467.5 1054.6 L469.5 1054.7 L471.5 1054.8 L473.5 1054.9 L475.4 1054.9 L477.4 1054.9 L479.4 1054.8 L481.4 1054.7 L483.4 1054.6 L485.4 1054.5 L487.4 1054.3 L489.4 1054.0 L491.4 1053.8 L493.4 1053.5 L495.4 1053.2 L497.4 1052.8 L499.4 1052.4 L501.4 1052.0 L503.4 1051.6 L505.4 1051.1 L507.4 1050.6 L509.4 1050.1 L511.4 1049.6 L513.4 1049.0 L515.4 1048.4 L517.4 1047.9 L519.4 1047.3 L521.4 1046.6 L523.4 1046.0 L525.4 1045.4 L527.4 1044.7 L529.4 1044.1 L531.4 1043.4 L533.4 1042.8 L535.4 1042.1 L537.4 1041.5 L539.4 1040.8 L541.4 1040.2 L543.4 1039.6 L545.4 1039.0 L547.4 1038.3 L549.4 1037.8 L551.4 1037.2 L553.4 1036.6 L555.4 1036.1 L557.4 1035.6 L559.4 1035.1 L561.4 1034.6 L563.4 1034.1 L565.4 1033.7 L567.4 1033.3 L569.4 1033.0 L571.4 1032.6 L573.4 1032.3 L575.3 1032.0 L577.3 1031.8 L579.3 1031.6 L581.3 1031.4 L583.3 1031.3 L585.3 1031.2 L587.3 1031.1 L589.3 1031.1 L591.3 1031.1 L593.3 1031.1 L595.3 1031.2 L597.3 1031.3 L599.3 1031.5 L601.3 1031.7 L603.3 1031.9 L605.3 1032.1 L607.3 1032.4 L609.3 1032.7 L611.3 1033.1 L613.3 1033.4 L615.3 1033.9 L617.3 1034.3 L619.3 1034.7 L621.3 1035.2 L623.3 1035.7 L625.3 1036.3 L627.3 1036.8 L629.3 1037.4 L631.3 1037.9 L633.3 1038.5 L635.3 1039.2 L637.3 1039.8 L639.3 1040.4 L641.3 1041.1 L643.3 1041.7 L645.3 1042.3 L647.3 1043.0 L649.3 1043.7 L651.3 1044.3 L653.3 1044.9 L655.3 1045.6 L657.3 1046.2 L659.3 1046.8 L661.3 1047.5 L663.3 1048.1 L665.3 1048.6 L667.3 1049.2 L669.3 1049.7 L671.3 1050.3 L673.2 1050.8 L675.2 1051.3 L677.2 1051.7 L679.2 1052.1 L681.2 1052.6 L683.2 1052.9 L685.2 1053.3 L687.2 1053.6 L689.2 1053.9 L691.2 1054.1 L693.2 1054.3 L695.2 1054.5 L697.2 1054.7 L699.2 1054.8 L701.2 1054.9 L703.2 1054.9 L705.2 1054.9 L707.2 1054.9 L709.2 1054.8 L711.2 1054.7 L713.2 1054.6 L715.2 1054.4 L717.2 1054.2 L719.2 1054.0 L721.2 1053.7 L723.2 1053.4 L725.2 1053.0 L727.2 1052.7 L729.2 1052.3 L731.2 1051.9 L733.2 1051.4 L735.2 1050.9 L737.2 1050.4 L739.2 1049.9 L741.2 1049.4 L743.2 1048.8 L745.2 1048.2 L747.2 1047.7 L749.2 1047.0 L751.2 1046.4 L753.2 1045.8 L755.2 1045.2 L757.2 1044.5 L759.2 1043.9 L761.2 1043.2 L763.2 1042.6 L765.2 1041.9 L767.2 1041.3 L769.2 1040.6 L771.1 1040.0 L773.1 1039.4 L775.1 1038.7 L777.1 1038.1 L779.1 1037.6 L781.1 1037.0 L783.1 1036.4 L785.1 1035.9 L787.1 1035.4 L789.1 1034.9 L791.1 1034.4 L793.1 1034.0 L795.1 1033.6 L797.1 1033.2 L799.1 1032.8 L801.1 1032.5 L803.1 1032.2 L805.1 1032.0 L807.1 1031.7 L809.1 1031.5 L811.1 1031.4 L813.1 1031.3 L815.1 1031.2 L817.1 1031.1 L819.1 1031.1"/>
<rect class="fr" x="131.8" y="1007.7" width="687.3" height="58.6"/>
<text class="ct" x="131.3" y="1002.8">VP4</text>
<text class="ax" text-anchor="end" x="124.9" y="1010.6">3.00</text>
<text class="ax" text-anchor="end" x="124.9" y="1021.6">2.00</text>
<text class="ax" text-anchor="end" x="124.9" y="1032.4">1.00</text>
<text class="ax" text-anchor="end" x="124.9" y="1043.5">0.00</text>
<text class="ax" text-anchor="end" x="124.9" y="1054.6">-1.00</text>
<text class="ax" text-anchor="end" x="124.9" y="1065.9">-2.00</text>
</g>
<g>
<line class="gh" x1="139.0" y1="1110.50" x2="819.1" y2="1110.50"/>
<line class="gh" x1="139.0" y1="1120.50" x2="819.1" y2="1120.50"/>
<line class="gh" x1="139.0" y1="1130.50" x2="819.1" y2="1130.50"/>
<line class="gh" x1="139.0" y1="1139.50" x2="819.1" y2="1139.50"/>
<line class="gh" x1="139.0" y1="1149.50" x2="819.1" y2="1149.50"/>
<line class="gv" x1="269.26" y1="1101.8" x2="269.26" y2="1159.2"/>
<line class="gv" x1="406.72" y1="1101.8" x2="406.72" y2="1159.2"/>
<line class="gv" x1="544.18" y1="1101.8" x2="544.18" y2="1159.2"/>
<line class="gv" x1="681.64" y1="1101.8" x2="681.64" y2="1159.2"/>
<path class="cv" d="M131.8 1130.5 L133.8 1129.3 L135.8 1128.1 L137.8 1126.8 L139.8 1125.6 L141.8 1124.4 L143.8 1123.3 L145.8 1122.1 L147.8 1121.0 L149.8 1119.9 L151.8 1118.8 L153.8 1117.8 L155.8 1116.8 L157.8 1115.9 L159.8 1115.0 L161.8 1114.1 L163.8 1113.3 L165.8 1112.5 L167.8 1111.8 L169.8 1111.2 L171.8 1110.6 L173.8 1110.0 L175.8 1109.6 L177.8 1109.2 L179.8 1108.8 L181.7 1108.6 L183.7 1108.3 L185.7 1108.2 L187.7 1108.1 L189.7 1108.1 L191.7 1108.2 L193.7 1108.3 L195.7 1108.5 L197.7 1108.7 L199.7 1109.0 L201.7 1109.4 L203.7 1109.9 L205.7 1110.4 L207.7 1111.0 L209.7 1111.6 L211.7 1112.3 L213.7 1113.0 L215.7 1113.8 L217.7 1114.7 L219.7 1115.6 L221.7 1116.5 L223.7 1117.5 L225.7 1118.5 L227.7 1119.5 L229.7 1120.6 L231.7 1121.7 L233.7 1122.9 L235.7 1124.0 L237.7 1125.2 L239.7 1126.4 L241.7 1127.6 L243.7 1128.9 L245.7 1130.1 L247.7 1131.3 L249.7 1132.5 L251.7 1133.8 L253.7 1135.0 L255.7 1136.2 L257.7 1137.3 L259.7 1138.5 L261.7 1139.6 L263.7 1140.7 L265.7 1141.8 L267.7 1142.9 L269.7 1143.9 L271.7 1144.8 L273.7 1145.8 L275.7 1146.6 L277.7 1147.5 L279.6 1148.2 L281.6 1149.0 L283.6 1149.6 L285.6 1150.2 L287.6 1150.8 L289.6 1151.3 L291.6 1151.7 L293.6 1152.1 L295.6 1152.4 L297.6 1152.6 L299.6 1152.8 L301.6 1152.9 L303.6 1152.9 L305.6 1152.9 L307.6 1152.8 L309.6 1152.6 L311.6 1152.4 L313.6 1152.1 L315.6 1151.7 L317.6 1151.3 L319.6 1150.8 L321.6 1150.2 L323.6 1149.6 L325.6 1149.0 L327.6 1148.2 L329.6 1147.5 L331.6 1146.6 L333.6 1145.8 L335.6 1144.8 L337.6 1143.9 L339.6 1142.9 L341.6 1141.8 L343.6 1140.7 L345.6 1139.6 L347.6 1138.5 L349.6 1137.3 L351.6 1136.2 L353.6 1135.0 L355.6 1133.8 L357.6 1132.5 L359.6 1131.3 L361.6 1130.1 L363.6 1128.9 L365.6 1127.6 L367.6 1126.4 L369.6 1125.2 L371.6 1124.0 L373.6 1122.9 L375.6 1121.7 L377.5 1120.6 L379.5 1119.5 L381.5 1118.5 L383.5 1117.5 L385.5 1116.5 L387.5 1115.6 L389.5 1114.7 L391.5 1113.8 L393.5 1113.0 L395.5 1112.3 L397.5 1111.6 L399.5 1111.0 L401.5 1110.4 L403.5 1109.9 L405.5 1109.4 L407.5 1109.0 L409.5 1108.7 L411.5 1108.5 L413.5 1108.3 L415.5 1108.2 L417.5 1108.1 L419.5 1108.1 L421.5 1108.2 L423.5 1108.3 L425.5 1108.6 L427.5 1108.8 L429.5 1109.2 L431.5 1109.6 L433.5 1110.0 L435.5 1110.6 L437.5 1111.2 L439.5 1111.8 L441.5 1112.5 L443.5 1113.3 L445.5 1114.1 L447.5 1115.0 L449.5 1115.9 L451.5 1116.8 L453.5 1117.8 L455.5 1118.8 L457.5 1119.9 L459.5 1121.0 L461.5 1122.1 L463.5 1123.3 L465.5 1124.4 L467.5 1125.6 L469.5 1126.8 L471.5 1128.1 L473.5 1129.3 L475.4 1130.5 L477.4 1131.7 L479.4 1132.9 L481.4 1134.2 L483.4 1135.4 L485.4 1136.6 L487.4 1137.7 L489.4 1138.9 L491.4 1140.0 L493.4 1141.1 L495.4 1142.2 L497.4 1143.2 L499.4 1144.2 L501.4 1145.1 L503.4 1146.0 L505.4 1146.9 L507.4 1147.7 L509.4 1148.5 L511.4 1149.2 L513.4 1149.8 L515.4 1150.4 L517.4 1151.0 L519.4 1151.4 L521.4 1151.8 L523.4 1152.2 L525.4 1152.4 L527.4 1152.7 L529.4 1152.8 L531.4 1152.9 L533.4 1152.9 L535.4 1152.8 L537.4 1152.7 L539.4 1152.5 L541.4 1152.3 L543.4 1152.0 L545.4 1151.6 L547.4 1151.1 L549.4 1150.6 L551.4 1150.0 L553.4 1149.4 L555.4 1148.7 L557.4 1148.0 L559.4 1147.2 L561.4 1146.3 L563.4 1145.4 L565.4 1144.5 L567.4 1143.5 L569.4 1142.5 L571.4 1141.5 L573.4 1140.4 L575.3 1139.3 L577.3 1138.1 L579.3 1137.0 L581.3 1135.8 L583.3 1134.6 L585.3 1133.4 L587.3 1132.1 L589.3 1130.9 L591.3 1129.7 L593.3 1128.5 L595.3 1127.2 L597.3 1126.0 L599.3 1124.8 L601.3 1123.7 L603.3 1122.5 L605.3 1121.4 L607.3 1120.3 L609.3 1119.2 L611.3 1118.1 L613.3 1117.1 L615.3 1116.2 L617.3 1115.2 L619.3 1114.4 L621.3 1113.5 L623.3 1112.8 L625.3 1112.0 L627.3 1111.4 L629.3 1110.8 L631.3 1110.2 L633.3 1109.7 L635.3 1109.3 L637.3 1108.9 L639.3 1108.6 L641.3 1108.4 L643.3 1108.2 L645.3 1108.1 L647.3 1108.1 L649.3 1108.1 L651.3 1108.2 L653.3 1108.4 L655.3 1108.6 L657.3 1108.9 L659.3 1109.3 L661.3 1109.7 L663.3 1110.2 L665.3 1110.8 L667.3 1111.4 L669.3 1112.0 L671.3 1112.8 L673.2 1113.5 L675.2 1114.4 L677.2 1115.2 L679.2 1116.2 L681.2 1117.1 L683.2 1118.1 L685.2 1119.2 L687.2 1120.3 L689.2 1121.4 L691.2 1122.5 L693.2 1123.7 L695.2 1124.8 L697.2 1126.0 L699.2 1127.2 L701.2 1128.5 L703.2 1129.7 L705.2 1130.9 L707.2 1132.1 L709.2 1133.4 L711.2 1134.6 L713.2 1135.8 L715.2 1137.0 L717.2 1138.1 L719.2 1139.3 L721.2 1140.4 L723.2 1141.5 L725.2 1142.5 L727.2 1143.5 L729.2 1144.5 L731.2 1145.4 L733.2 1146.3 L735.2 1147.2 L737.2 1148.0 L739.2 1148.7 L741.2 1149.4 L743.2 1150.0 L745.2 1150.6 L747.2 1151.1 L749.2 1151.6 L751.2 1152.0 L753.2 1152.3 L755.2 1152.5 L757.2 1152.7 L759.2 1152.8 L761.2 1152.9 L763.2 1152.9 L765.2 1152.8 L767.2 1152.7 L769.2 1152.4 L771.1 1152.2 L773.1 1151.8 L775.1 1151.4 L777.1 1151.0 L779.1 1150.4 L781.1 1149.8 L783.1 1149.2 L785.1 1148.5 L787.1 1147.7 L789.1 1146.9 L791.1 1146.0 L793.1 1145.1 L795.1 1144.2 L797.1 1143.2 L799.1 1142.2 L801.1 1141.1 L803.1 1140.0 L805.1 1138.9 L807.1 1137.7 L809.1 1136.6 L811.1 1135.4 L813.1 1134.2 L815.1 1132.9 L817.1 1131.7 L819.1 1130.5"/>
<rect class="fr" x="131.8" y="1100.8" width="687.3" height="58.4"/>
<text class="ct" x="131.3" y="1096.0">VP5</text>
<text class="ax" text-anchor="end" x="123.5" y="1103.5">30.00<tspan font-size="4.6">M</tspan></text>
<text class="ax" text-anchor="end" x="123.5" y="1112.6">20.00<tspan font-size="4.6">M</tspan></text>
<text class="ax" text-anchor="end" x="123.5" y="1121.7">10.00<tspan font-size="4.6">M</tspan></text>
<text class="ax" text-anchor="end" x="123.5" y="1130.9">0.00<tspan font-size="4.6">M</tspan></text>
<text class="ax" text-anchor="end" x="123.5" y="1140.0">-10.00<tspan font-size="4.6">M</tspan></text>
<text class="ax" text-anchor="end" x="123.5" y="1149.5">-20.00<tspan font-size="4.6">M</tspan></text>
<text class="ax" text-anchor="end" x="123.5" y="1158.6">-30.00<tspan font-size="4.6">M</tspan></text>
</g>
<text class="ax" text-anchor="middle" x="131.5" y="1171.6">0.00</text>
<text class="ax" text-anchor="middle" x="269.0" y="1171.6">10.00</text>
<text class="ax" text-anchor="middle" x="405.6" y="1171.6">20.00</text>
<text class="ax" text-anchor="middle" x="543.2" y="1171.6">30.00</text>
<text class="ax" text-anchor="middle" x="679.7" y="1171.6">40.00</text>
<text class="ax" text-anchor="middle" x="816.6" y="1171.6">50.00</text>
<text class="ax" text-anchor="middle" x="474.7" y="1175">Time (ms)</text>
<rect class="bx" stroke="#000" x="693.8" y="735.4" width="109.9" height="39.3"/>
<rect class="bx" stroke="#000" x="692.9" y="828.2" width="115.4" height="44.8"/>
<rect class="bx" stroke="#000" x="700.2" y="1013.2" width="97.3" height="38.2"/>
<rect class="bx" stroke="#000" x="612.4" y="1106.2" width="189.2" height="41.5"/>
<g id="texts">
<text x="1.00" y="14.50" font-family='"Liberation Sans", sans-serif' font-size="13.58" textLength="53.36" lengthAdjust="spacing" fill="#222">GEAR.xls</text>
<text x="144.50" y="36.30" font-family='"Liberation Serif", serif' font-size="16.50" font-weight="bold" textLength="369.50" lengthAdjust="spacing" fill="#000">低速軸＆高速軸間増速ギヤー電位差検討（</text>
<text x="515.00" y="36.20" font-family='"Liberation Sans", sans-serif' font-size="13.40" font-weight="bold" font-style="italic" textLength="136.58" lengthAdjust="spacing" fill="#f00000">サブμギヤー油膜厚</text>
<text x="655.00" y="36.20" font-family='"Liberation Sans", sans-serif' font-size="13.40" font-weight="bold" textLength="44.50" lengthAdjust="spacing" fill="#000">仮定）</text>
<text x="269.50" y="59.10" font-family='"Liberation Serif", serif' font-size="15.00" font-weight="bold" textLength="303.50" lengthAdjust="spacing" fill="#f00000">軸受絶縁なし（現状）＆油膜厚標準状態</text>
<text x="590.50" y="96.40" font-family='"Liberation Sans", sans-serif' font-size="15.30" font-weight="bold" textLength="194.25" lengthAdjust="spacing" fill="#f00000">（左記計算モデル 説明）</text>
<text x="600.50" y="114.80" font-family='"Liberation Sans", sans-serif' font-size="13.80" font-weight="bold" textLength="254.00" lengthAdjust="spacing" fill="#000">パワーエレクトロニクス回路解析による</text>
<text x="600.50" y="131.80" font-family='"Liberation Sans", sans-serif' font-size="13.80" font-weight="bold" textLength="120.50" lengthAdjust="spacing" fill="#000">計算結果である。</text>
<text x="600.50" y="149.90" font-family='"Liberation Sans", sans-serif' font-size="13.80" font-weight="bold" textLength="250.50" lengthAdjust="spacing" fill="#000">要素数制限より、高速軸軸受はすべて</text>
<text x="601.00" y="167.90" font-family='"Liberation Sans", sans-serif' font-size="13.80" font-weight="bold" textLength="198.69" lengthAdjust="spacing" fill="#000">1個にまとめてモデル化実施。</text>
<text x="600.50" y="202.20" font-family='"Liberation Sans", sans-serif' font-size="13.80" font-weight="bold" textLength="270.00" lengthAdjust="spacing" fill="#000">低速軸と高速軸間の増速ギヤーについて</text>
<text x="599.50" y="218.90" font-family='"Liberation Sans", sans-serif' font-size="13.80" font-weight="bold" textLength="269.50" lengthAdjust="spacing" fill="#000">はサブミクロンの油膜厚があるものとして</text>
<text x="600.50" y="236.90" font-family='"Liberation Sans", sans-serif' font-size="13.80" font-weight="bold" textLength="263.50" lengthAdjust="spacing" fill="#000">左記モデルを作成している。Ｃ１１がその</text>
<text x="600.50" y="254.90" font-family='"Liberation Sans", sans-serif' font-size="13.80" font-weight="bold" textLength="204.00" lengthAdjust="spacing" fill="#000">増速ギヤー油膜キャパシタンス</text>
<text x="600.50" y="372.40" font-family='"Liberation Sans", sans-serif' font-size="13.80" font-weight="bold" textLength="61.00" lengthAdjust="spacing" fill="#f00000">計算結果</text>
<text x="601.00" y="388.80" font-family='"Liberation Sans", sans-serif' font-size="13.80" font-weight="bold" textLength="277.00" lengthAdjust="spacing" fill="#000">増速ギヤー油膜サブミクロン状態に関する</text>
<text x="598.00" y="406.00" font-family='"Liberation Sans", sans-serif' font-size="13.80" font-weight="bold" textLength="275.50" lengthAdjust="spacing" fill="#000">Ｃを想定し、全体モデル計算を実施すると</text>
<text x="601.00" y="424.80" font-family='"Liberation Sans", sans-serif' font-size="13.80" font-weight="bold" textLength="266.00" lengthAdjust="spacing" fill="#000">高速軸と低速軸間の電位差は、０．０２２</text>
<text x="598.00" y="441.40" font-family='"Liberation Sans", sans-serif' font-size="13.80" font-weight="bold" textLength="246.45" lengthAdjust="spacing" fill="#000">Ｖ（２２μＶ）という小さな電位差である</text>
<text x="601.00" y="459.30" font-family='"Liberation Sans", sans-serif' font-size="13.80" font-weight="bold" textLength="88.50" lengthAdjust="spacing" fill="#000">可能性有り。</text>
<text x="268.00" y="205.60" font-family='"Liberation Sans", sans-serif' font-size="17.00" textLength="54.00" lengthAdjust="spacing" fill="#000">固定子</text>
<text x="223.50" y="245.00" font-family='"Liberation Sans", sans-serif' font-size="17.00" textLength="54.50" lengthAdjust="spacing" fill="#000">回転子</text>
<text x="95.00" y="307.00" font-family='"Liberation Sans", sans-serif' font-size="17.00" textLength="37.00" lengthAdjust="spacing" fill="#000">軸受</text>
<text x="120.00" y="379.40" font-family='"Liberation Sans", sans-serif' font-size="13.60" font-weight="bold" textLength="61.00" lengthAdjust="spacing" fill="#000">軸受絶縁</text>
<text x="47.50" y="396.00" font-family='"Liberation Sans", sans-serif' font-size="17.00" textLength="48.00" lengthAdjust="spacing" fill="#000">コイル</text>
<text x="248.00" y="321.00" font-family='"Liberation Sans", sans-serif' font-size="12.80" textLength="27.50" lengthAdjust="spacing" fill="#000">高速</text>
<text x="409.50" y="315.70" font-family='"Liberation Sans", sans-serif' font-size="12.80" textLength="27.00" lengthAdjust="spacing" fill="#000">低速</text>
<text x="208.00" y="475.50" font-family='"Liberation Sans", sans-serif' font-size="12.80" textLength="90.00" lengthAdjust="spacing" fill="#000">電動機フレーム</text>
<text x="386.50" y="236.20" font-family='"Liberation Sans", sans-serif' font-size="12.20" font-weight="bold" textLength="69.00" lengthAdjust="spacing" fill="#f00000">増速ギヤー</text>
<text x="698.00" y="749.90" font-family='"Liberation Sans", sans-serif' font-size="13.80" font-weight="bold" textLength="46.00" lengthAdjust="spacing" fill="#000">低速軸</text>
<text x="697.00" y="766.90" font-family='"Liberation Sans", sans-serif' font-size="13.80" font-weight="bold" textLength="99.00" lengthAdjust="spacing" fill="#000">電圧値約２７Ｖ</text>
<text x="697.00" y="842.90" font-family='"Liberation Sans", sans-serif' font-size="13.80" font-weight="bold" textLength="46.50" lengthAdjust="spacing" fill="#000">高速軸</text>
<text x="696.00" y="859.40" font-family='"Liberation Sans", sans-serif' font-size="13.80" font-weight="bold" textLength="99.00" lengthAdjust="spacing" fill="#000">電圧値約２７Ｖ</text>
<text x="703.50" y="1027.40" font-family='"Liberation Sans", sans-serif' font-size="13.80" font-weight="bold" textLength="75.08" lengthAdjust="spacing" fill="#000">frame電位</text>
<text x="704.50" y="1044.90" font-family='"Liberation Sans", sans-serif' font-size="13.80" font-weight="bold" textLength="40.00" lengthAdjust="spacing" fill="#000">約１Ｖ</text>
<text x="616.00" y="1120.80" font-family='"Liberation Sans", sans-serif' font-size="13.80" font-weight="bold" textLength="122.00" lengthAdjust="spacing" fill="#f00000">増速ギヤー間電圧</text>
<text x="616.00" y="1137.50" font-family='"Liberation Sans", sans-serif' font-size="13.80" font-weight="bold" textLength="165.95" lengthAdjust="spacing" fill="#f00000">約２２μＶ＝約０．０２２Ｖ</text>
<text x="188.00" y="188.00" font-family='"Liberation Mono", monospace' font-size="13.05" textLength="72.64" lengthAdjust="spacing" fill="#4a4a4a">1.2E-013</text>
<text x="215.50" y="206.00" font-family='"Liberation Mono", monospace' font-size="13.05" textLength="18.17" lengthAdjust="spacing" fill="#4a4a4a">C1</text>
<text x="116.50" y="231.50" font-family='"Liberation Mono", monospace' font-size="13.05" textLength="82.47" lengthAdjust="spacing" fill="#4a4a4a">7.14E-010</text>
<text x="149.00" y="249.50" font-family='"Liberation Mono", monospace' font-size="13.05" textLength="17.67" lengthAdjust="spacing" fill="#4a4a4a">C2</text>
<text x="231.50" y="299.50" font-family='"Liberation Mono", monospace' font-size="13.05" textLength="17.67" lengthAdjust="spacing" fill="#4a4a4a">C7</text>
<text x="298.50" y="299.00" font-family='"Liberation Mono", monospace' font-size="13.05" textLength="17.17" lengthAdjust="spacing" fill="#4a4a4a">C5</text>
<text x="463.50" y="299.00" font-family='"Liberation Mono", monospace' font-size="13.05" textLength="18.17" lengthAdjust="spacing" fill="#4a4a4a">C3</text>
<text x="34.50" y="347.00" font-family='"Liberation Mono", monospace' font-size="13.05" textLength="36.83" lengthAdjust="spacing" fill="#4a4a4a">3811</text>
<text x="23.50" y="365.50" font-family='"Liberation Mono", monospace' font-size="13.05" textLength="16.17" lengthAdjust="spacing" fill="#4a4a4a">60</text>
<text x="42.00" y="365.50" font-family='"Liberation Mono", monospace' font-size="13.05" textLength="20.17" lengthAdjust="spacing" fill="#4a4a4a">V1</text>
<text x="367.50" y="524.00" font-family='"Liberation Mono", monospace' font-size="13.05" textLength="35.33" lengthAdjust="spacing" fill="#4a4a4a">1000</text>
<text x="375.50" y="542.50" font-family='"Liberation Mono", monospace' font-size="13.05" textLength="17.67" lengthAdjust="spacing" fill="#4a4a4a">R3</text>
<text x="423.50" y="524.00" font-family='"Liberation Mono", monospace' font-size="13.05" textLength="54.98" lengthAdjust="spacing" fill="#4a4a4a">5E-020</text>
<text x="436.50" y="542.50" font-family='"Liberation Mono", monospace' font-size="13.05" textLength="27.50" lengthAdjust="spacing" fill="#4a4a4a">C10</text>
<text x="186.50" y="293.00" font-family='"Liberation Mono", monospace' font-size="11.16" textLength="21.09" lengthAdjust="spacing" fill="#222">VP1</text>
<text x="507.00" y="293.50" font-family='"Liberation Mono", monospace' font-size="11.16" textLength="20.59" lengthAdjust="spacing" fill="#222">VP2</text>
<text x="507.00" y="393.50" font-family='"Liberation Mono", monospace' font-size="11.16" textLength="19.59" lengthAdjust="spacing" fill="#222">VP3</text>
<text x="540.00" y="536.00" font-family='"Liberation Mono", monospace' font-size="11.16" textLength="20.09" lengthAdjust="spacing" fill="#222">VP4</text>
<text x="213.50" y="279.50" font-family='"Liberation Mono", monospace' font-size="7.33" font-weight="bold" textLength="54.98" lengthAdjust="spacing" fill="#222">8.242E-009</text>
<text x="279.00" y="279.50" font-family='"Liberation Mono", monospace' font-size="7.33" font-weight="bold" textLength="55.98" lengthAdjust="spacing" fill="#222">8.242E-009</text>
<text x="445.50" y="279.50" font-family='"Liberation Mono", monospace' font-size="7.33" font-weight="bold" textLength="55.48" lengthAdjust="spacing" fill="#222">8.242E-008</text>
<text x="330.00" y="240.50" font-family='"Liberation Mono", monospace' font-size="7.33" font-weight="bold" textLength="32.89" lengthAdjust="spacing" fill="#222">0.0001</text>
<text x="338.00" y="260.00" font-family='"Liberation Mono", monospace' font-size="7.33" font-weight="bold" textLength="15.70" lengthAdjust="spacing" fill="#222">C11</text>
<text x="333.00" y="314.00" font-family='"Liberation Mono", monospace' font-size="7.33" font-weight="bold" textLength="15.20" lengthAdjust="spacing" fill="#222">VP5</text>
<text x="227.00" y="378.50" font-family='"Liberation Mono", monospace' font-size="7.33" font-weight="bold" textLength="28.00" lengthAdjust="spacing" fill="#222">0.001</text>
<text x="294.00" y="378.50" font-family='"Liberation Mono", monospace' font-size="7.33" font-weight="bold" textLength="27.00" lengthAdjust="spacing" fill="#222">0.001</text>
<text x="456.50" y="378.50" font-family='"Liberation Mono", monospace' font-size="7.33" font-weight="bold" textLength="32.39" lengthAdjust="spacing" fill="#222">0.0005</text>
<text x="236.00" y="397.50" font-family='"Liberation Mono", monospace' font-size="7.33" font-weight="bold" textLength="10.30" lengthAdjust="spacing" fill="#222">R5</text>
<text x="301.50" y="397.50" font-family='"Liberation Mono", monospace' font-size="7.33" font-weight="bold" textLength="11.30" lengthAdjust="spacing" fill="#222">R4</text>
<text x="468.00" y="397.50" font-family='"Liberation Mono", monospace' font-size="7.33" font-weight="bold" textLength="9.30" lengthAdjust="spacing" fill="#222">R2</text>
<text x="336.00" y="327.00" font-family='"Liberation Serif", serif' font-size="12.00" fill="#2020ff">V</text>
</g>
</svg>
</body>
</html>
